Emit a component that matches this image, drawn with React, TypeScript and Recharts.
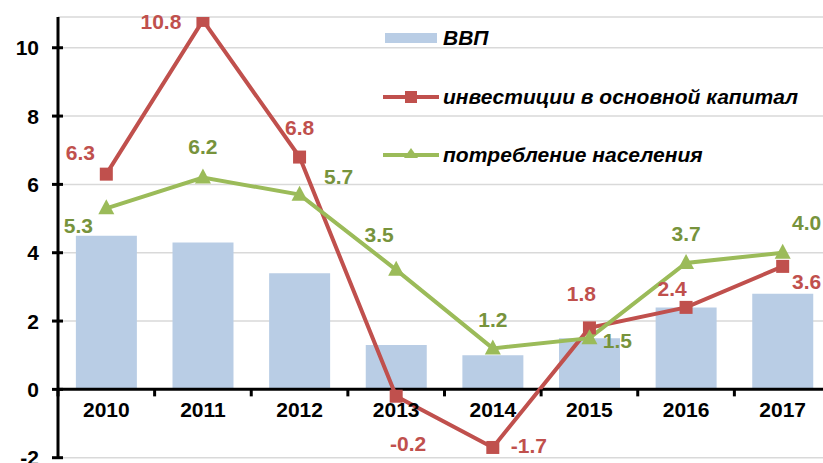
import {
  Bar,
  CartesianGrid,
  ComposedChart,
  LabelList,
  Legend,
  Line,
  ReferenceLine,
  XAxis,
  YAxis,
} from "recharts";

const YEARS = ["2010", "2011", "2012", "2013", "2014", "2015", "2016", "2017"];
const GDP = [4.5, 4.3, 3.4, 1.3, 1.0, 1.5, 2.4, 2.8];
const INVESTMENT = [6.3, 10.8, 6.8, -0.2, -1.7, 1.8, 2.4, 3.6];
const CONSUMPTION = [5.3, 6.2, 5.7, 3.5, 1.2, 1.5, 3.7, 4.0];
const Y_TICKS = [-2, 0, 2, 4, 6, 8, 10];

// label nudges [dx, dy] relative to each point
const INVESTMENT_LABEL_NUDGE = [
  [-26, -22], [-42, 1], [0, -30], [12, 47], [36, -2], [-8, -34], [-14, -19], [24, 15],
];
const CONSUMPTION_LABEL_NUDGE = [
  [-28, 17], [0, -31], [39, -18], [-17, -35], [0, -29], [28, 2], [0, -29], [24, -30],
];

const FONT = '"Liberation Sans", Arial, sans-serif';
const RED = "#C0504D";
const GREEN = "#9BBB59";
const GREEN_TEXT = "#77933C";
const BAR = "#B9CDE5";

const Y_MIN = -2;
const Y_MAX = 10.9;
const CHART_W = 840;
const CHART_H = 470;
const MARGIN = { top: 17, right: 9, bottom: 11.3, left: 0 };
const X_AXIS_H = 1;
const PLOT_H = CHART_H - MARGIN.top - MARGIN.bottom - X_AXIS_H;
const ZERO_FROM_BOTTOM = (PLOT_H * (0 - Y_MIN)) / (Y_MAX - Y_MIN);

const rows = YEARS.map((year, i) => ({
  year,
  gdp: GDP[i],
  invest: INVESTMENT[i],
  consume: CONSUMPTION[i],
}));

function makeLabel(nudge: number[][], color: string) {
  return (props: any) => {
    const vb = props.viewBox || {};
    const x = props.x ?? vb.x;
    const y = props.y ?? vb.y;
    const idx = props.index ?? 0;
    const [dx, dy] = nudge[idx] || [0, -25];
    return (
      <text
        x={x + dx}
        y={y + dy}
        textAnchor="middle"
        dominantBaseline="central"
        fill={color}
        fontFamily={FONT}
        fontWeight="bold"
        fontSize={21}
      >
        {Number(props.value).toFixed(1)}
      </text>
    );
  };
}

const YTick = (props: any) => {
  const { x, y, payload } = props;
  return (
    <g>
      <line x1={x - 6} x2={x + 5} y1={y} y2={y} stroke="#000" strokeWidth={3} />
      <text
        x={x - 19}
        y={y}
        textAnchor="end"
        dominantBaseline="central"
        fontFamily={FONT}
        fontWeight="bold"
        fontSize={21}
        fill="#000"
      >
        {payload.value}
      </text>
    </g>
  );
};

const XTick = (props: any) => {
  const { x, y, payload } = props;
  const zeroY = y - ZERO_FROM_BOTTOM;
  const half = payload.offset ?? 48.35;
  return (
    <g>
      <line x1={x - half} x2={x - half} y1={zeroY} y2={zeroY + 7} stroke="#000" strokeWidth={3} />
      <text
        x={x}
        y={zeroY + 20}
        textAnchor="middle"
        dominantBaseline="central"
        fontFamily={FONT}
        fontWeight="bold"
        fontSize={21}
        fill="#000"
      >
        {payload.value}
      </text>
    </g>
  );
};

const SquareDot = (props: any) => {
  const { cx, cy, index } = props;
  return <rect key={`sq-${index}`} x={cx - 6.5} y={cy - 6.5} width={13} height={13} fill={RED} />;
};

const TriangleDot = (props: any) => {
  const { cx, cy, index } = props;
  return (
    <polygon
      key={`tr-${index}`}
      points={`${cx},${cy - 9} ${cx - 8},${cy + 6} ${cx + 8},${cy + 6}`}
      fill={GREEN}
    />
  );
};

const LEGEND_ITEMS = [
  { key: "gdp", label: "ВВП" },
  { key: "invest", label: "инвестиции в основной капитал" },
  { key: "consume", label: "потребление населения" },
];

function LegendIcon({ kind }: { kind: string }) {
  if (kind === "gdp") {
    return (
      <svg width={56} height={16}>
        <rect x={2} y={3} width={52} height={10} fill={BAR} />
      </svg>
    );
  }
  const color = kind === "invest" ? RED : GREEN;
  return (
    <svg width={56} height={16}>
      <line x1={0} x2={56} y1={8} y2={8} stroke={color} strokeWidth={4} strokeLinecap="round" />
      {kind === "invest" ? (
        <rect x={22} y={2} width={12} height={12} fill={RED} />
      ) : (
        <polygon points="28,1 21,11 35,11" fill={GREEN} />
      )}
    </svg>
  );
}

const LegendBox = () => (
  <div style={{ fontFamily: FONT }}>
    {LEGEND_ITEMS.map((it) => (
      <div key={it.key} style={{ display: "flex", alignItems: "center", height: 58.5 }}>
        <LegendIcon kind={it.key} />
        <span
          style={{
            marginLeft: 4,
            fontSize: 21,
            fontWeight: "bold",
            fontStyle: "italic",
            color: "#000",
            whiteSpace: "nowrap",
          }}
        >
          {it.label}
        </span>
      </div>
    ))}
  </div>
);

export default function App() {
  return (
    <div
      style={{
        position: "absolute",
        left: 0,
        top: 0,
        width: 823,
        height: 463,
        overflow: "hidden",
        background: "#fff",
      }}
    >
      <ComposedChart width={CHART_W} height={CHART_H} data={rows} margin={MARGIN} barCategoryGap="18.5%">
        <CartesianGrid vertical={false} stroke="#D9D9D9" strokeWidth={1.5} />
        <XAxis
          dataKey="year"
          height={X_AXIS_H}
          axisLine={false}
          tickLine={false}
          tickSize={0}
          tickMargin={0}
          interval={0}
          tick={<XTick />}
        />
        <YAxis
          width={58}
          domain={[Y_MIN, Y_MAX]}
          ticks={Y_TICKS}
          allowDataOverflow
          axisLine={{ stroke: "#000", strokeWidth: 3 }}
          tickLine={false}
          tickSize={0}
          tickMargin={0}
          tick={<YTick />}
        />
        <Legend
          layout="vertical"
          align="center"
          verticalAlign="middle"
          wrapperStyle={{ left: 383, top: 9, width: 440 }}
          content={<LegendBox />}
        />
        <Bar dataKey="gdp" name="ВВП" fill={BAR} isAnimationActive={false} />
        <ReferenceLine y={0} stroke="#000" strokeWidth={3} />
        <Line
          dataKey="invest"
          name="инвестиции в основной капитал"
          stroke={RED}
          strokeWidth={4}
          dot={SquareDot}
          activeDot={false}
          isAnimationActive={false}
        >
          <LabelList dataKey="invest" content={makeLabel(INVESTMENT_LABEL_NUDGE, RED)} />
        </Line>
        <Line
          dataKey="consume"
          name="потребление населения"
          stroke={GREEN}
          strokeWidth={4}
          dot={TriangleDot}
          activeDot={false}
          isAnimationActive={false}
        >
          <LabelList dataKey="consume" content={makeLabel(CONSUMPTION_LABEL_NUDGE, GREEN_TEXT)} />
        </Line>
      </ComposedChart>
    </div>
  );
}
